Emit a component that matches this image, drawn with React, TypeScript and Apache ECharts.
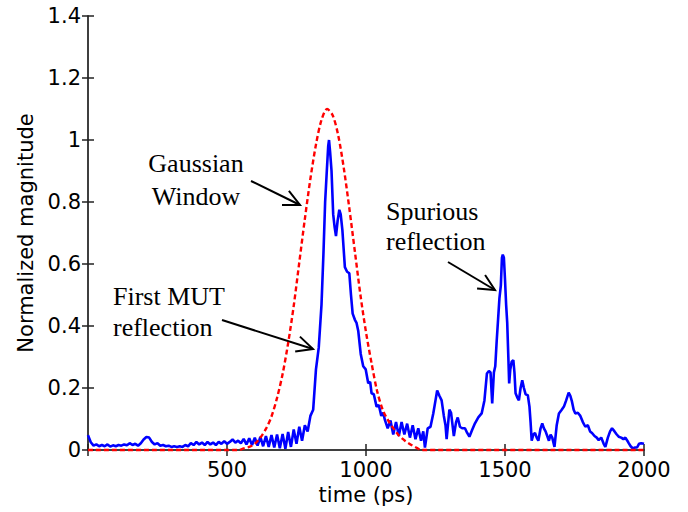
import React, { useEffect, useRef } from "react";
import * as echarts from "echarts";

// Measured trace (blue): [time ps, normalized magnitude]
const measuredTrace: [number, number][] = [
  [0, 0.048], [10, 0.025], [20, 0.014], [30, 0.018], [40, 0.012], [50, 0.016], [60, 0.012], [70, 0.018],
  [80, 0.011], [90, 0.015], [100, 0.012], [110, 0.016], [120, 0.014], [130, 0.018], [140, 0.015], [150, 0.022],
  [160, 0.016], [170, 0.02], [180, 0.014], [190, 0.022], [200, 0.034], [210, 0.042], [220, 0.04], [230, 0.026],
  [240, 0.018], [250, 0.022], [260, 0.014], [270, 0.016], [280, 0.012], [290, 0.014], [300, 0.01], [310, 0.012],
  [320, 0.01], [330, 0.012], [340, 0.01], [350, 0.016], [360, 0.012], [370, 0.022], [380, 0.016], [390, 0.026],
  [400, 0.018], [410, 0.024], [420, 0.016], [430, 0.026], [440, 0.018], [450, 0.024], [460, 0.016], [470, 0.026],
  [480, 0.02], [490, 0.028], [500, 0.02], [510, 0.026], [520, 0.034], [530, 0.024], [540, 0.03],
  [550, 0.022], [560, 0.036], [570, 0.018], [580, 0.038], [590, 0.016], [600, 0.04], [610, 0.014], [620, 0.042],
  [630, 0.012], [640, 0.045], [650, 0.01], [660, 0.048], [670, 0.008], [680, 0.05], [690, 0.006], [700, 0.052],
  [710, 0.004], [720, 0.058], [730, 0.01], [740, 0.066], [750, 0.02], [760, 0.075], [770, 0.03], [780, 0.08],
  [790, 0.06], [800, 0.11], [810, 0.13], [820, 0.26], [830, 0.33], [840, 0.47], [847, 0.635], [853, 0.8],
  [859, 0.9], [864, 0.98], [867, 1.0], [871, 0.96], [876, 0.9], [882, 0.76], [887, 0.72], [892, 0.69],
  [898, 0.74], [904, 0.775], [909, 0.76], [915, 0.71], [924, 0.59], [932, 0.575], [940, 0.57], [946, 0.5],
  [952, 0.44], [960, 0.42], [966, 0.41], [972, 0.385], [981, 0.31], [990, 0.27], [999, 0.26], [1008, 0.215],
  [1015, 0.22], [1020, 0.183], [1028, 0.18], [1038, 0.14], [1046, 0.145], [1055, 0.11], [1062, 0.12], [1068, 0.097],
  [1078, 0.07], [1088, 0.095], [1098, 0.05], [1108, 0.09], [1118, 0.045], [1128, 0.09], [1138, 0.05], [1148, 0.085],
  [1158, 0.04], [1168, 0.08], [1178, 0.035], [1188, 0.07], [1198, 0.03], [1206, 0.06], [1212, 0.008], [1222, 0.07],
  [1232, 0.075], [1242, 0.118], [1250, 0.16], [1256, 0.192], [1264, 0.175], [1272, 0.16], [1280, 0.11], [1286, 0.08],
  [1290, 0.035], [1300, 0.13], [1306, 0.12], [1310, 0.09], [1316, 0.045], [1324, 0.09], [1330, 0.105], [1338, 0.075],
  [1346, 0.07], [1356, 0.07], [1364, 0.055], [1372, 0.043], [1382, 0.065], [1392, 0.086], [1404, 0.105], [1416, 0.118],
  [1426, 0.16], [1435, 0.247], [1442, 0.255], [1448, 0.25], [1454, 0.15], [1460, 0.25], [1465, 0.27], [1470, 0.35],
  [1475, 0.42], [1480, 0.49], [1485, 0.53], [1489, 0.62], [1492, 0.63], [1496, 0.62], [1500, 0.55], [1504, 0.47],
  [1508, 0.41], [1512, 0.3], [1515, 0.215], [1519, 0.26], [1524, 0.285], [1530, 0.29], [1534, 0.25], [1538, 0.183],
  [1544, 0.17], [1550, 0.16], [1556, 0.2], [1562, 0.225], [1568, 0.2], [1574, 0.18], [1582, 0.177], [1588, 0.14],
  [1592, 0.09], [1596, 0.03], [1602, 0.05], [1608, 0.055], [1614, 0.04], [1620, 0.03], [1628, 0.07], [1634, 0.086],
  [1640, 0.07], [1646, 0.06], [1652, 0.045], [1658, 0.03], [1664, 0.05], [1670, 0.04], [1678, 0.01], [1686, 0.08],
  [1694, 0.118], [1704, 0.13], [1712, 0.14], [1720, 0.16], [1729, 0.185], [1735, 0.175], [1741, 0.156], [1747, 0.13],
  [1753, 0.118], [1762, 0.12], [1771, 0.11], [1780, 0.09], [1789, 0.075], [1798, 0.08], [1806, 0.06], [1813, 0.055],
  [1822, 0.045], [1830, 0.04], [1837, 0.032], [1846, 0.04], [1855, 0.02], [1861, 0.01], [1870, 0.04], [1878, 0.06],
  [1885, 0.07], [1894, 0.06], [1902, 0.05], [1909, 0.043], [1918, 0.04], [1926, 0.035], [1933, 0.04], [1940, 0.03],
  [1945, 0.022], [1952, 0.012], [1960, 0.005], [1968, 0.008], [1975, 0.008], [1982, 0.02], [1990, 0.022], [2000, 0.02],
];

// Gaussian window (red dashed): [time ps, magnitude]
const gaussianWindow: [number, number][] = [
  [0, 0], [540, 0], [560, 0.005], [580, 0.01], [600, 0.02], [620, 0.04], [640, 0.068], [660, 0.108],
  [680, 0.168], [700, 0.245], [720, 0.345], [740, 0.465], [760, 0.605], [780, 0.745], [800, 0.875], [820, 0.985],
  [840, 1.065], [860, 1.1], [880, 1.08], [900, 1.015], [920, 0.91], [940, 0.78], [960, 0.64], [980, 0.5],
  [1000, 0.38], [1020, 0.28], [1040, 0.19], [1060, 0.13], [1080, 0.095], [1100, 0.068], [1120, 0.045], [1140, 0.03],
  [1160, 0.018], [1180, 0.008], [1200, 0], [2000, 0],
];

const xTicks = { min: 0, max: 2000, interval: 500 };
const yTicks = { min: 0, max: 1.4, interval: 0.2 };

const SANS = "DejaVu Sans";
const SERIF = "Liberation Serif";

function arrow(x1: number, y1: number, x2: number, y2: number) {
  const ang = Math.atan2(y2 - y1, x2 - x1);
  const len = 18;
  const spread = 0.45;
  const a1 = ang + Math.PI - spread;
  const a2 = ang + Math.PI + spread;
  return [
    { type: "line", shape: { x1, y1, x2, y2 }, style: { stroke: "#000", lineWidth: 2 } },
    {
      type: "polyline",
      shape: {
        points: [
          [x2 + len * Math.cos(a1), y2 + len * Math.sin(a1)],
          [x2, y2],
          [x2 + len * Math.cos(a2), y2 + len * Math.sin(a2)],
        ],
      },
      style: { stroke: "#000", lineWidth: 2, fill: null },
    },
  ];
}

function label(text: string, x: number, y: number, align: string) {
  return {
    type: "text",
    x,
    y,
    style: {
      text,
      font: `26px "${SERIF}"`,
      fill: "#000",
      align,
      verticalAlign: "middle",
    },
  };
}

export default function App() {
  const ref = useRef<HTMLDivElement>(null);
  useEffect(() => {
    if (!ref.current) return;
    const chart = echarts.init(ref.current, undefined, { renderer: "svg" });
    const axisLine = { show: true, lineStyle: { color: "#333", width: 1.5 } };
    const tick = { show: true, inside: true, length: 6, lineStyle: { color: "#222", width: 1.5 } };
    chart.setOption({
      animation: false,
      backgroundColor: "#fff",
      grid: { left: 88, right: 44, top: 16, bottom: 62, containLabel: false },
      xAxis: [
        {
          type: "value",
          ...xTicks,
          position: "bottom",
          name: "time (ps)",
          nameLocation: "middle",
          nameGap: 31,
          nameTextStyle: { fontFamily: SANS, fontSize: 21, color: "#000" },
          axisLine,
          axisTick: tick,
          splitLine: { show: false },
          axisLabel: {
            fontFamily: SANS,
            fontSize: 21,
            color: "#000",
            margin: 9,
            formatter: (v: number) => (v === 0 ? "" : String(v)),
          },
        },
        {
          type: "value",
          ...xTicks,
          position: "top",
          axisLine,
          axisTick: tick,
          splitLine: { show: false },
          axisLabel: { show: false },
        },
      ],
      yAxis: [
        {
          type: "value",
          ...yTicks,
          position: "left",
          name: "Normalized magnitude",
          nameLocation: "middle",
          nameGap: 52,
          nameRotate: 90,
          nameTextStyle: { fontFamily: SANS, fontSize: 21, color: "#000" },
          axisLine,
          axisTick: tick,
          splitLine: { show: false },
          axisLabel: {
            fontFamily: SANS,
            fontSize: 21,
            color: "#000",
            margin: 7,
            formatter: (v: number) => String(+v.toFixed(1)),
          },
        },
        {
          type: "value",
          ...yTicks,
          position: "right",
          axisLine,
          axisTick: tick,
          splitLine: { show: false },
          axisLabel: { show: false },
        },
      ],
      series: [
        {
          type: "line",
          data: measuredTrace,
          showSymbol: false,
          clip: false,
          lineStyle: { color: "#0000ff", width: 2.6 },
          z: 3,
        },
        {
          type: "line",
          data: gaussianWindow,
          showSymbol: false,
          smooth: 0.3,
          clip: false,
          lineStyle: { color: "#ff0000", width: 2.4, type: [5, 3] },
          z: 4,
        },
      ],
      graphic: [
        label("Gaussian", 196, 163, "center"),
        label("Window", 196, 196, "center"),
        label("Spurious", 386, 211, "left"),
        label("reflection", 386, 241, "left"),
        label("First MUT", 113, 296, "left"),
        label("reflection", 113, 327, "left"),
        ...arrow(251, 181, 300, 205),
        ...arrow(222, 320, 313, 349),
        ...arrow(448, 262, 495, 290),
      ],
    });
    return () => chart.dispose();
  }, []);
  return (
    <div
      ref={ref}
      style={{ position: "fixed", left: 0, top: 0, width: 688, height: 512 }}
    />
  );
}
